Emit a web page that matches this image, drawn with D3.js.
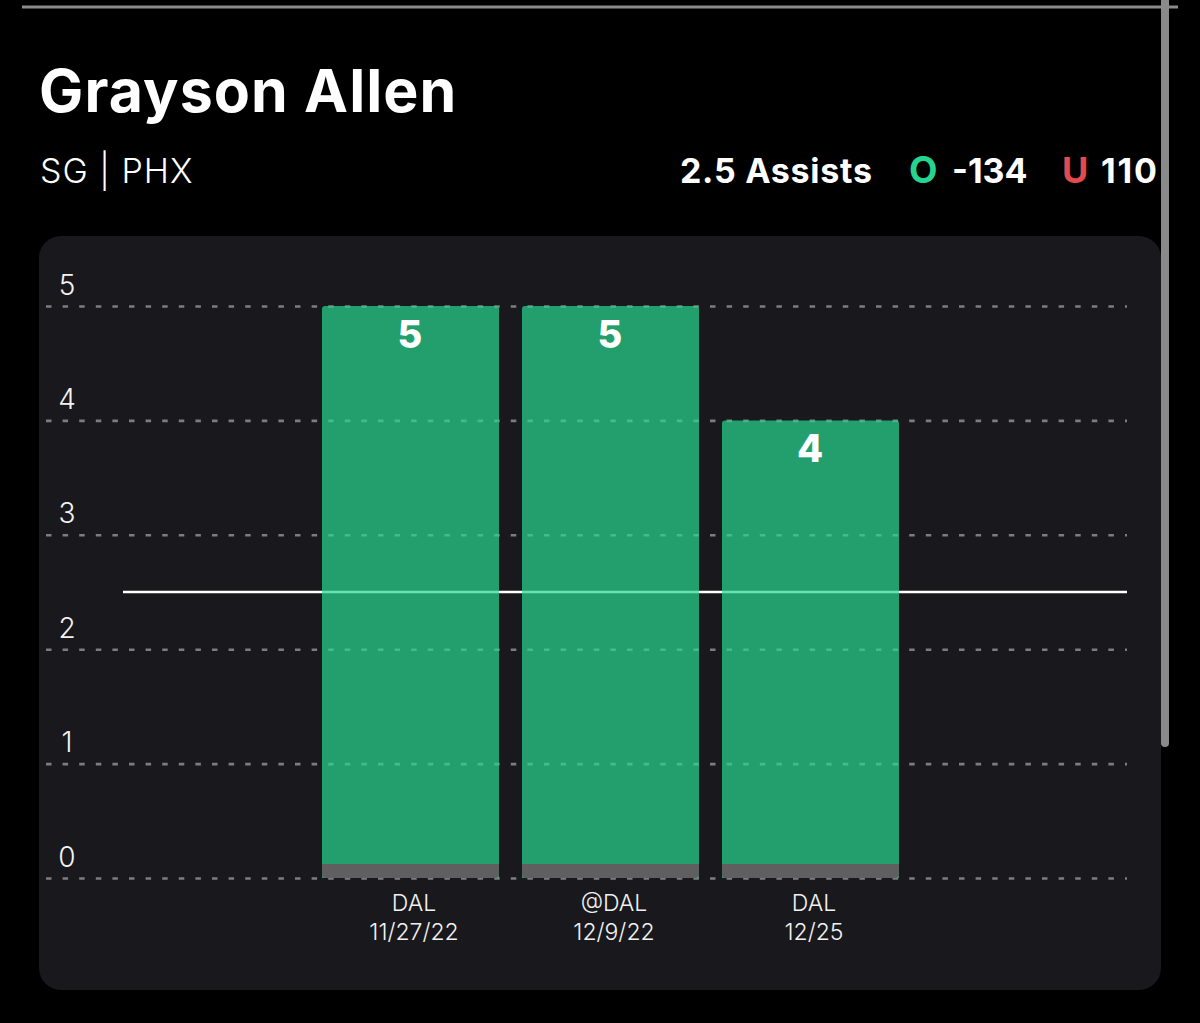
<!DOCTYPE html>
<html>
<head>
<meta charset="utf-8">
<script src="https://cdn.jsdelivr.net/npm/d3@7"></script>
<style>
  html, body { margin: 0; padding: 0; background: #000; overflow: hidden; }
  text { font-family: Inter, "Liberation Sans", sans-serif; }
</style>
</head>
<body>
<svg id="chart" width="1200" height="1023"></svg>
<script>
const games = ["DAL", "@DAL", "DAL "];
const dates = ["11/27/22", "12/9/22", "12/25"];
const assists = [5, 5, 4];
const yTicks = [0, 1, 2, 3, 4, 5];
const propLine = 2.5;

const svg = d3.select("#chart");

// browser chrome bits from the screenshot
svg.append("rect").attr("x", 22).attr("y", 5.5).attr("width", 1156).attr("height", 3).attr("fill", "#8a8a8a");

// card
svg.append("rect")
  .attr("x", 39).attr("y", 236)
  .attr("width", 1122).attr("height", 754)
  .attr("rx", 22)
  .attr("fill", "#19191d");

svg.append("rect")
  .attr("x", 1161).attr("y", -10)
  .attr("width", 8).attr("height", 757)
  .attr("rx", 4)
  .attr("fill", "#8a8a8a");

// header
svg.append("text").attr("x", 39).attr("y", 112)
  .attr("font-size", 59).attr("font-weight", 700).attr("letter-spacing", 1.1).attr("fill", "#fff")
  .text("Grayson Allen");

svg.append("text").attr("x", 40).attr("y", 183)
  .attr("font-size", 34).attr("font-weight", 300).attr("letter-spacing", 1).attr("fill", "#fff")
  .text("SG | PHX");

const odds = svg.append("g").attr("font-size", 34).attr("font-weight", 700).attr("fill", "#fff");
odds.append("text").attr("x", 680).attr("y", 183).attr("letter-spacing", 0.7).text("2.5 Assists");
odds.append("text").attr("x", 909).attr("y", 183).attr("font-size", 37).attr("fill", "#25d48f").text("O");
odds.append("text").attr("x", 952).attr("y", 183).text("-134");
odds.append("text").attr("x", 1062).attr("y", 183).attr("font-size", 36).attr("fill", "#e04b50").text("U");
odds.append("text").attr("x", 1101).attr("y", 183).attr("letter-spacing", 1.8).text("110");

// scales
const y = d3.scaleLinear().domain([0, 5]).range([878, 306]);
const x = d3.scaleBand()
  .domain(games)
  .range([310.5, 910.5])
  .paddingInner(0.115)
  .paddingOuter(0.0575);

// gridlines + y labels
const grid = svg.append("g").call(
  d3.axisLeft(y).tickValues(yTicks).tickSize(-1081).tickPadding(0).tickFormat(d3.format("d"))
).attr("transform", "translate(1127,0)");
grid.select(".domain").remove();
grid.selectAll(".tick line")
  .attr("x1", -1081).attr("x2", 0)
  .attr("stroke", "#7d7d81").attr("stroke-width", 2.6)
  .attr("stroke-dasharray", "5.5 11.1");
grid.selectAll(".tick text")
  .attr("x", -1060).attr("dy", -12)
  .attr("text-anchor", "middle")
  .attr("font-family", "Inter, sans-serif")
  .attr("font-size", 28).attr("font-weight", 300)
  .attr("fill", "#f2f2f2");

// line sits under the translucent bars, so it reads as light green through them
svg.append("line")
  .attr("x1", 123).attr("x2", 1127)
  .attr("y1", y(propLine)).attr("y2", y(propLine))
  .attr("stroke", "#fff").attr("stroke-width", 2.6);

const bars = svg.append("g").selectAll("g").data(assists).join("g");

bars.append("path")
  .attr("d", (d, i) => {
    const x0 = x(games[i]), w = x.bandwidth(), top = y(d), r = 3;
    return `M${x0},${top + r}Q${x0},${top} ${x0 + r},${top}H${x0 + w - r}Q${x0 + w},${top} ${x0 + w},${top + r}V${y(0)}H${x0}Z`;
  })
  .attr("fill", "#27d98e").attr("fill-opacity", 0.7);

// grey footer at the base of each bar
bars.append("path")
  .attr("d", (d, i) => {
    const x0 = x(games[i]), w = x.bandwidth(), b = y(0), r = 4;
    return `M${x0},${b - 14}H${x0 + w}V${b - r}Q${x0 + w},${b} ${x0 + w - r},${b}H${x0 + r}Q${x0},${b} ${x0},${b - r}Z`;
  })
  .attr("fill", "#5f5f5f");

bars.append("text")
  .attr("x", (d, i) => x(games[i]) + x.bandwidth() / 2 - 0.5)
  .attr("y", d => y(d) + 42)
  .attr("text-anchor", "middle")
  .attr("font-size", 38).attr("font-weight", 800).attr("fill", "#fff")
  .text(d => d);

// x labels
const labels = svg.append("g").attr("text-anchor", "middle").attr("fill", "#f2f2f2")
  .attr("font-size", 23).attr("font-weight", 300);
labels.selectAll(".game").data(games).join("text")
  .attr("class", "game")
  .attr("x", d => x(d) + x.bandwidth() / 2 + 3.5)
  .attr("y", 911)
  .text(d => d.trim());
labels.selectAll(".date").data(dates).join("text")
  .attr("class", "date")
  .attr("x", (d, i) => x(games[i]) + x.bandwidth() / 2 + 3.5)
  .attr("y", 940)
  .text(d => d);
</script>
</body>
</html>
